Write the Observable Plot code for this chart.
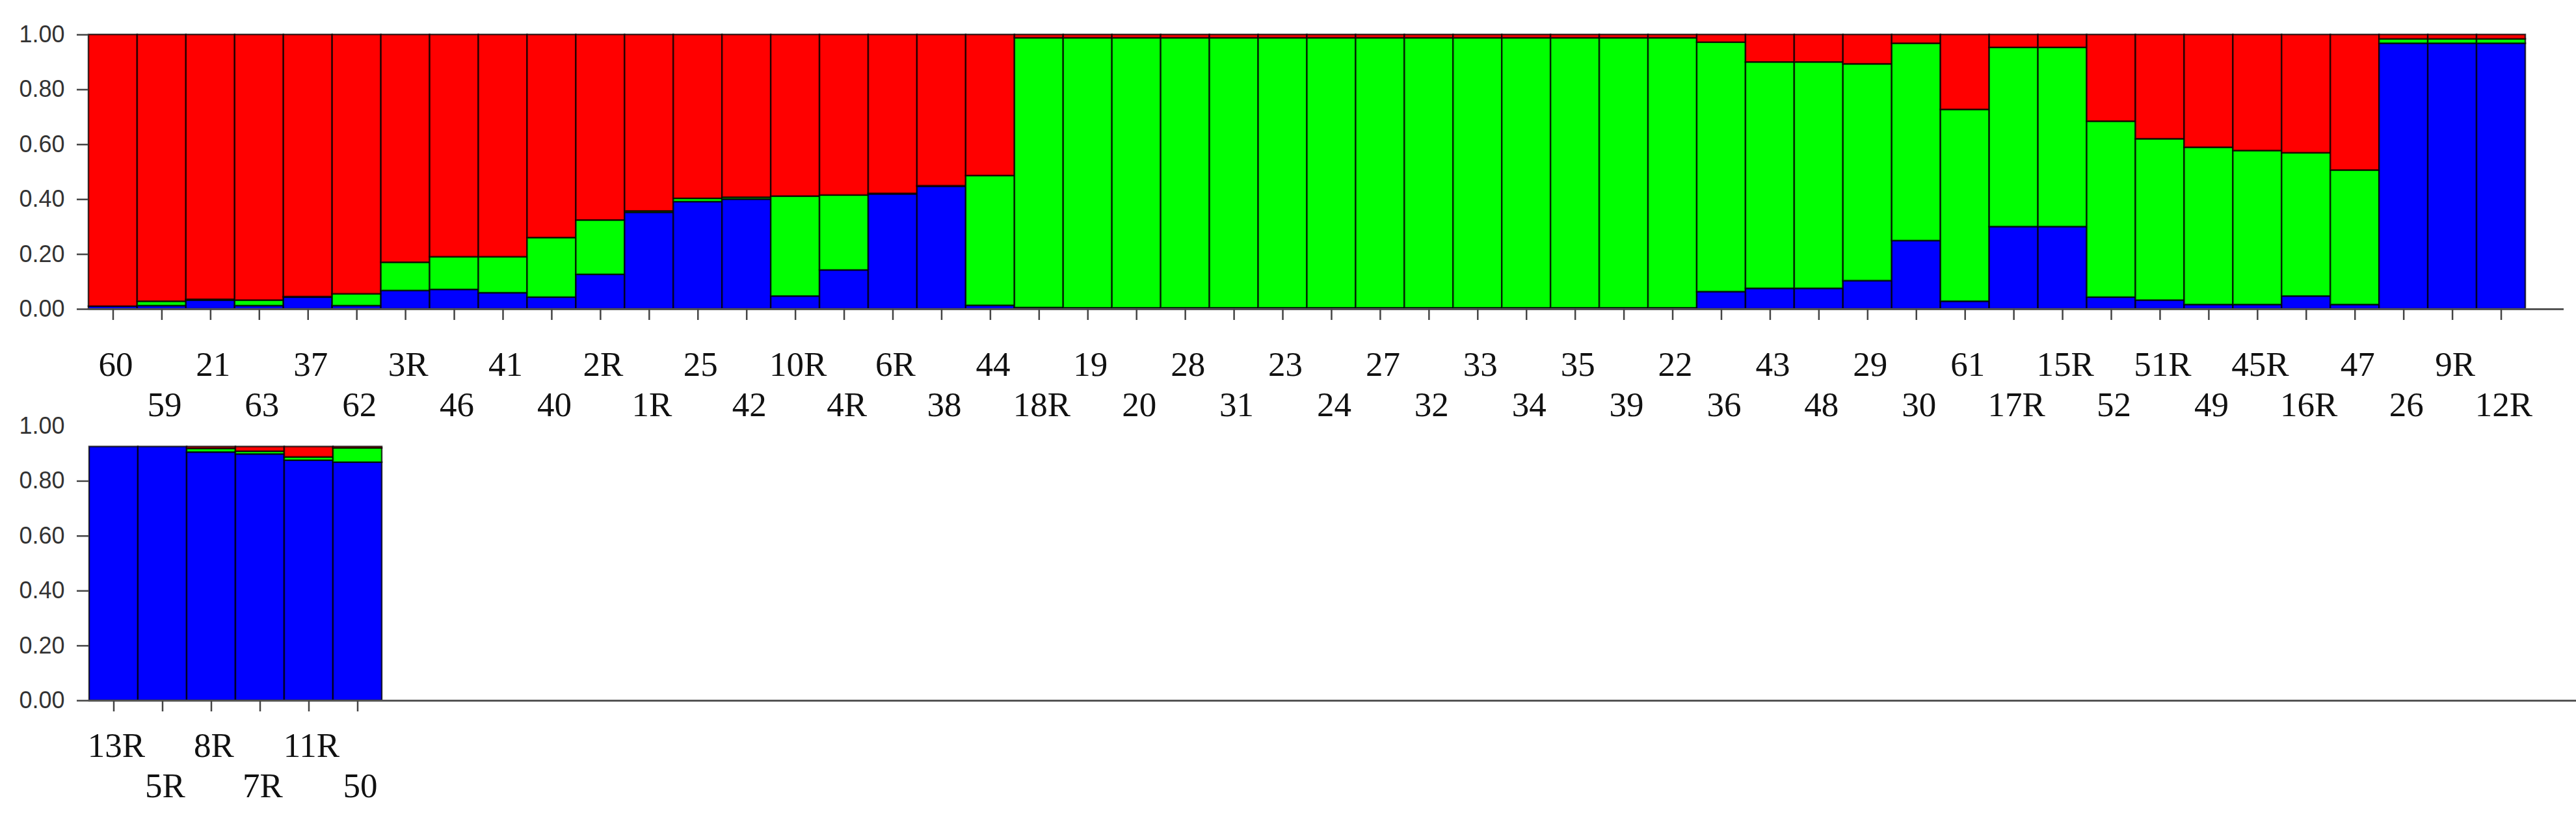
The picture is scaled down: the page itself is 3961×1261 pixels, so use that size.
<!DOCTYPE html>
<html><head><meta charset="utf-8">
<script src="https://cdn.jsdelivr.net/npm/d3@7"></script>
<script src="https://cdn.jsdelivr.net/npm/@observablehq/plot@0.6"></script>
<style>
html,body{margin:0;padding:0;background:#fff;}
#chart svg{display:block;}
</style></head><body><div id="chart"></div>
<script>
const topLabels = ["60","59","21","63","37","62","3R","46","41","40","2R","1R","25","42","10R","4R","6R","38","44","18R","19","20","28","31","23","24","27","32","33","34","35","39","22","36","43","48","29","30","61","17R","15R","52","51R","49","45R","16R","47","26","9R","12R"];
const topBlue = [0.010,0.012,0.032,0.012,0.043,0.012,0.067,0.071,0.059,0.043,0.126,0.352,0.391,0.400,0.047,0.142,0.419,0.447,0.013,0.005,
  0.004,0.004,0.004,0.004,0.004,0.004,0.004,0.004,0.004,0.004,0.004,0.004,0.004,
  0.063,0.075,0.075,0.103,0.249,0.028,0.300,0.300,0.043,0.032,0.016,0.016,0.047,0.016,0.968,0.968,0.968];
const topGreen = [0.000,0.016,0.003,0.020,0.002,0.043,0.103,0.119,0.131,0.217,0.198,0.005,0.012,0.007,0.364,0.273,0.002,0.002,0.473,0.983,
  0.984,0.984,0.984,0.984,0.984,0.984,0.984,0.984,0.984,0.984,0.984,0.984,0.984,
  0.909,0.825,0.825,0.790,0.719,0.699,0.653,0.653,0.641,0.588,0.573,0.561,0.522,0.490,0.016,0.016,0.016];
const topRed = [0.990,0.972,0.965,0.968,0.955,0.945,0.830,0.810,0.810,0.740,0.676,0.643,0.597,0.593,0.589,0.585,0.579,0.551,0.514,0.012,
  0.012,0.012,0.012,0.012,0.012,0.012,0.012,0.012,0.012,0.012,0.012,0.012,0.012,
  0.028,0.100,0.100,0.107,0.032,0.273,0.047,0.047,0.316,0.380,0.411,0.423,0.431,0.494,0.016,0.016,0.016];

const bottomLabels = ["13R","5R","8R","7R","11R","50"];
const bottomBlue = [0.925,0.925,0.905,0.898,0.875,0.868];
const bottomGreen = [0.000,0.000,0.013,0.010,0.012,0.052];
const bottomRed = [0.000,0.000,0.007,0.017,0.038,0.005];

const yTicks = [0, 0.2, 0.4, 0.6, 0.8, 1.0];
const clusters = ["K1","K2","K3"];
const clusterColors = ["#0000ff","#00ff00","#ff0000"];

function toLong(labels, blue, green, red) {
  return labels.flatMap((id, i) => [
    {id, k: "K1", q: blue[i]},
    {id, k: "K2", q: green[i]},
    {id, k: "K3", q: red[i]}
  ]);
}

const yFont = "'Liberation Sans', Arial, sans-serif";
const xFont = "'Liberation Serif', 'Times New Roman', serif";

function panel(o) {
  const even = o.labels.filter((d, i) => i % 2 === 0);
  const odd = o.labels.filter((d, i) => i % 2 === 1);
  const yAxisStyle = {label: null, tickFormat: d3.format(".2f"), fontSize: 36, fontFamily: yFont, fill: "#333", stroke: "#444", strokeWidth: 2.5};
  const marks = [
    Plot.barY(o.data, {x: "id", y: "q", fill: "k", order: clusters, stroke: "#000", strokeWidth: 2.5, strokeOpacity: 0.75, inset: 0}),
    Plot.ruleY([0], {stroke: "#555", strokeWidth: 3}),
    Plot.ruleX(o.labels, {x: d => d, y1: () => 0, y2: () => 0, insetTop: 0, insetBottom: -17, stroke: "#444", strokeWidth: 2.5}),
    Plot.text(even, {x: d => d, frameAnchor: "bottom", dy: o.row1, dx: 4, lineAnchor: "bottom", fontSize: 53, fontFamily: xFont, fill: "#111"}),
    Plot.text(odd, {x: d => d, frameAnchor: "bottom", dy: o.row2, dx: 4, lineAnchor: "bottom", fontSize: 53, fontFamily: xFont, fill: "#111"})
  ];
  if (o.topTick) {
    marks.push(Plot.axisY(yTicks, {...yAxisStyle, tickSize: 18, tickPadding: 19}));
  } else {
    marks.push(Plot.axisY(yTicks.slice(0, 5), {...yAxisStyle, tickSize: 18, tickPadding: 19}));
    marks.push(Plot.axisY(yTicks.slice(5), {...yAxisStyle, tickSize: 0, tickPadding: 37}));
  }
  return Plot.plot({
    width: 3961, height: o.height,
    marginTop: o.marginTop, marginBottom: o.marginBottom, marginLeft: 136, marginRight: o.marginRight,
    x: {domain: o.labels, range: o.xRange, padding: 0, axis: null},
    y: {domain: [0, 1], axis: null},
    color: {domain: clusters, range: clusterColors},
    style: {background: "#fff", overflow: "visible"},
    marks
  });
}

const chart = document.getElementById("chart");
chart.append(panel({
  labels: topLabels, data: toLong(topLabels, topBlue, topGreen, topRed),
  height: 642, marginTop: 53, marginBottom: 167, marginRight: 19, xRange: [136, 3883],
  row1: 102, row2: 164, topTick: true
}));
chart.append(panel({
  labels: bottomLabels, data: toLong(bottomLabels, bottomBlue, bottomGreen, bottomRed),
  height: 619, marginTop: 13, marginBottom: 184, marginRight: 0, xRange: [136, 587],
  row1: 86, row2: 148, topTick: false
}));
</script></body></html>
